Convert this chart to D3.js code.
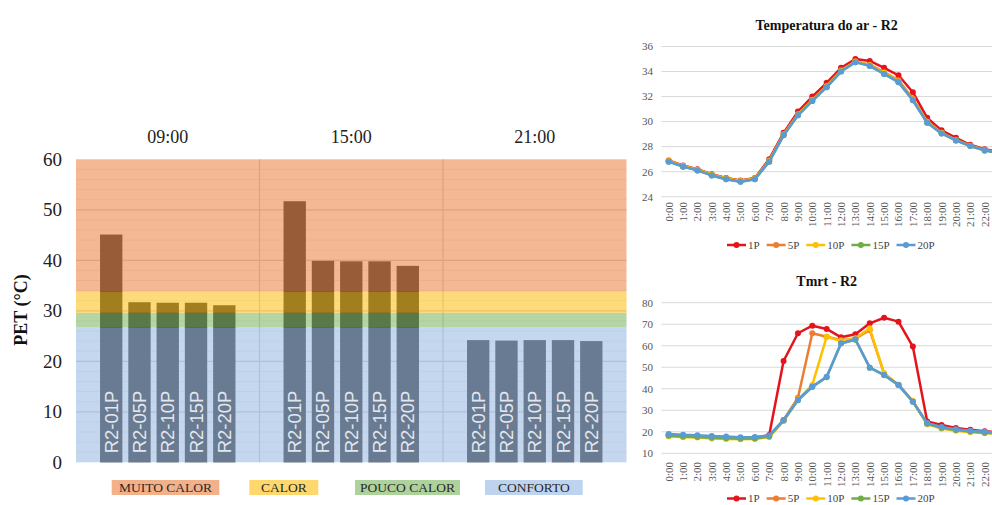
<!DOCTYPE html>
<html>
<head>
<meta charset="utf-8">
<script src="https://cdn.jsdelivr.net/npm/d3@7"></script>
<style>
  body { margin: 0; background: #fff; overflow: hidden; }
  svg { display: block; }
</style>
</head>
<body>
<svg id="chart" width="992" height="505"></svg>
<script>
// ---------- PET bar chart data ----------
const periods = ["09:00", "15:00", "21:00"];
const points = ["R2-01P", "R2-05P", "R2-10P", "R2-15P", "R2-20P"];
const pet0900 = [45.1, 31.7, 31.6, 31.6, 31.1];
const pet1500 = [51.7, 39.9, 39.8, 39.8, 38.9];
const pet2100 = [24.2, 24.1, 24.2, 24.2, 24.0];
const petTicks = [0, 10, 20, 30, 40, 50, 60];

// thermal sensation zones (lower bound, upper bound)
const zoneNames = ["CONFORTO", "POUCO CALOR", "CALOR", "MUITO CALOR"];
const zoneFrom = [0, 26.7, 29.6, 33.8];
const zoneTo = [26.7, 29.6, 33.8, 60];
const legendOrder = ["MUITO CALOR", "CALOR", "POUCO CALOR", "CONFORTO"];

// ---------- hourly line chart data ----------
const hours = ["0:00","1:00","2:00","3:00","4:00","5:00","6:00","7:00","8:00","9:00","10:00","11:00",
               "12:00","13:00","14:00","15:00","16:00","17:00","18:00","19:00","20:00","21:00","22:00","23:00"];
const seriesNames = ["1P", "5P", "10P", "15P", "20P"];

const air1P  = [26.9, 26.5, 26.2, 25.8, 25.5, 25.3, 25.5, 27.0, 29.1, 30.8, 32.0, 33.1, 34.3, 35.0, 34.85, 34.3, 33.7, 32.35, 30.3, 29.3, 28.7, 28.15, 27.8, 27.6];
const air5P  = [26.85, 26.45, 26.15, 25.75, 25.45, 25.25, 25.45, 26.9, 29.0, 30.6, 31.75, 32.85, 34.1, 34.8, 34.55, 33.95, 33.3, 31.85, 30.0, 29.1, 28.55, 28.1, 27.75, 27.55];
const air10P = [26.85, 26.45, 26.15, 25.75, 25.45, 25.25, 25.45, 26.85, 28.95, 30.55, 31.7, 32.8, 34.05, 34.8, 34.5, 33.9, 33.2, 31.75, 29.95, 29.1, 28.5, 28.05, 27.7, 27.5];
const air15P = [26.8, 26.4, 26.1, 25.7, 25.4, 25.2, 25.4, 26.8, 28.9, 30.5, 31.65, 32.75, 34.0, 34.75, 34.45, 33.8, 33.15, 31.7, 29.9, 29.05, 28.5, 28.05, 27.7, 27.5];
const air20P = [26.8, 26.4, 26.1, 25.7, 25.4, 25.2, 25.4, 26.8, 28.9, 30.5, 31.65, 32.75, 34.0, 34.75, 34.45, 33.8, 33.15, 31.7, 29.9, 29.05, 28.5, 28.05, 27.7, 27.5];
const airTicks = [24, 26, 28, 30, 32, 34, 36];

const mrt1P  = [18.6, 18.2, 18.0, 17.6, 17.4, 17.1, 17.2, 18.5, 52.9, 65.8, 69.3, 67.8, 63.9, 65.3, 70.4, 73.0, 71.2, 59.6, 24.8, 23.2, 21.8, 20.9, 20.3, 19.8];
const mrt5P  = [18.4, 18.0, 17.8, 17.4, 17.2, 16.9, 17.0, 18.0, 25.5, 35.8, 65.8, 64.2, 62.7, 63.3, 67.3, 47.0, 41.9, 34.2, 24.0, 22.0, 21.0, 20.3, 19.8, 19.4];
const mrt10P = [17.9, 17.5, 17.3, 16.9, 16.7, 16.5, 16.6, 17.6, 25.0, 35.0, 41.8, 64.2, 62.2, 63.5, 68.1, 47.2, 41.8, 34.2, 23.5, 21.5, 20.5, 19.8, 19.3, 19.0];
const mrt15P = [18.2, 17.8, 17.6, 17.2, 17.0, 16.8, 16.9, 17.8, 25.2, 34.6, 40.8, 45.4, 61.0, 62.8, 49.8, 46.3, 41.7, 34.0, 23.7, 21.8, 20.8, 20.1, 19.6, 19.2];
const mrt20P = [19.0, 18.6, 18.4, 18.0, 17.8, 17.5, 17.6, 18.3, 25.5, 34.8, 41.0, 45.6, 61.1, 63.0, 49.8, 46.4, 41.8, 34.0, 24.0, 22.2, 21.2, 20.5, 20.0, 19.5];
const mrtTicks = [10, 20, 30, 40, 50, 60, 70, 80];

// ---------- styling ----------
const serif = "'Liberation Serif','Times New Roman',serif";
const sans = "'Liberation Sans',Arial,sans-serif";
const zoneColor = {
  "MUITO CALOR": "#ed894e",
  "CALOR": "#fdc321",
  "POUCO CALOR": "#84bb67",
  "CONFORTO": "#9dbce3"
};
const zoneOpacity = 0.6;
const lineColors = ["#e3141c", "#ed7d31", "#ffc000", "#70ad47", "#5b9bd5"];
const pageWidth = 992;

const svg = d3.select("#chart");

// =================== PET chart ===================
const plotLeft = 76, plotRight = 626.5, plotTop = 159.3, plotBottom = 462.3;
const y = d3.scaleLinear().domain([0, 60]).range([plotBottom, plotTop]);
const x0 = d3.scaleBand().domain(periods).range([plotLeft, plotRight]);
const x1 = d3.scaleBand().domain(points).range([0, x0.bandwidth()])
  .paddingInner(0.21).paddingOuter(0.85);

const pet = svg.append("g");

// minor and major gridlines (sit under the translucent zone bands)
pet.selectAll("line.minor").data(d3.range(2, 60, 2).filter(v => v % 10 !== 0)).join("line")
  .attr("x1", plotLeft).attr("x2", plotRight)
  .attr("y1", d => y(d)).attr("y2", d => y(d))
  .attr("stroke", "#ececec").attr("stroke-width", 1);
pet.selectAll("line.major").data(petTicks.filter(v => v > 0 && v < 60)).join("line")
  .attr("x1", plotLeft).attr("x2", plotRight)
  .attr("y1", d => y(d)).attr("y2", d => y(d))
  .attr("stroke", "#c8c8c8").attr("stroke-width", 1.2);
pet.selectAll("line.sep").data(periods.slice(1)).join("line")
  .attr("x1", d => x0(d)).attr("x2", d => x0(d))
  .attr("y1", plotTop).attr("y2", plotBottom)
  .attr("stroke", "#c8c8c8").attr("stroke-width", 1.2);

// bars
const petByPeriod = [pet0900, pet1500, pet2100];
const barData = [];
periods.forEach((p, i) => points.forEach((pt, j) => barData.push({ period: p, point: pt, value: petByPeriod[i][j] })));

pet.selectAll("rect.bar").data(barData).join("rect")
  .attr("x", d => x0(d.period) + x1(d.point))
  .attr("width", x1.bandwidth())
  .attr("y", d => y(d.value))
  .attr("height", d => y(0) - y(d.value))
  .attr("fill", "#1a1a1a");

// translucent thermal zones over the bars
const zones = zoneNames.map((n, i) => ({ name: n, from: zoneFrom[i], to: zoneTo[i] }));
pet.selectAll("rect.zone").data(zones).join("rect")
  .attr("x", plotLeft).attr("width", plotRight - plotLeft)
  .attr("y", d => y(d.to)).attr("height", d => y(d.from) - y(d.to))
  .attr("fill", d => zoneColor[d.name]).attr("fill-opacity", zoneOpacity);

// point labels inside bars
pet.selectAll("text.blabel").data(barData).join("text")
  .attr("transform", d => `translate(${x0(d.period) + x1(d.point) + x1.bandwidth() / 2 + 6.5},${y(0) - 9}) rotate(-90)`)
  .attr("font-family", sans).attr("font-size", 18.5)
  .attr("fill", "#e3e7ed")
  .text(d => d.point);

// period headings
pet.selectAll("text.period").data(periods).join("text")
  .attr("x", d => x0(d) + x0.bandwidth() / 2).attr("y", 143)
  .attr("text-anchor", "middle")
  .attr("font-family", serif).attr("font-size", 18).attr("fill", "#222")
  .text(d => d);

// y tick labels
pet.selectAll("text.ytick").data(petTicks).join("text")
  .attr("x", 62).attr("y", d => y(d)).attr("dy", "0.35em")
  .attr("text-anchor", "end")
  .attr("font-family", serif).attr("font-size", 19).attr("fill", "#222")
  .text(d => d);

pet.append("text")
  .attr("transform", "translate(27,310) rotate(-90)")
  .attr("text-anchor", "middle")
  .attr("font-family", serif).attr("font-size", 18).attr("font-weight", "bold").attr("fill", "#111")
  .text("PET (°C)");

// zone legend
const legendBoxes = { "MUITO CALOR": [111.7, 219.3], "CALOR": [249.3, 318.3], "POUCO CALOR": [355, 460], "CONFORTO": [485, 582.7] };
const lg = pet.selectAll("g.lg").data(legendOrder).join("g");
lg.append("rect")
  .attr("x", d => legendBoxes[d][0]).attr("width", d => legendBoxes[d][1] - legendBoxes[d][0])
  .attr("y", 480).attr("height", 15)
  .attr("fill", d => zoneColor[d]).attr("fill-opacity", 0.66);
lg.append("text")
  .attr("x", d => (legendBoxes[d][0] + legendBoxes[d][1]) / 2).attr("y", 492)
  .attr("text-anchor", "middle")
  .attr("font-family", serif).attr("font-size", 13.5).attr("fill", "#2a2a2a")
  .text(d => d);

// =================== hourly line charts ===================
function lineChart(cfg) {
  const g = svg.append("g");
  const x = d3.scaleBand().domain(hours).range([661.5, 1006.2]);
  const cx = h => x(h) + x.bandwidth() / 2;
  const yy = d3.scaleLinear().domain(cfg.domain).range(cfg.range);

  g.selectAll("line.grid").data(cfg.ticks).join("line")
    .attr("x1", 661.5).attr("x2", 1006.2)
    .attr("y1", d => yy(d)).attr("y2", d => yy(d))
    .attr("stroke", "#d9d9d9").attr("stroke-width", 1);

  g.selectAll("text.yt").data(cfg.ticks).join("text")
    .attr("x", 653).attr("y", d => yy(d)).attr("dy", "0.35em")
    .attr("text-anchor", "end")
    .attr("font-family", serif).attr("font-size", 11).attr("fill", "#555")
    .text(d => d);

  // hour labels that fall inside the page
  g.selectAll("text.xt").data(hours.filter(h => cx(h) + 6 <= pageWidth)).join("text")
    .attr("transform", d => `translate(${cx(d) + 4},${cfg.labelY}) rotate(-90)`)
    .attr("text-anchor", "end")
    .attr("font-family", serif).attr("font-size", 11).attr("fill", "#555")
    .text(d => d);

  g.append("text")
    .attr("x", 826.7).attr("y", cfg.titleY)
    .attr("text-anchor", "middle")
    .attr("font-family", serif).attr("font-size", 14).attr("font-weight", "bold").attr("fill", "#111")
    .text(cfg.title);

  const line = d3.line().x((d, i) => cx(hours[i])).y(d => yy(d));
  cfg.series.forEach((vals, k) => {
    g.append("path").datum(vals)
      .attr("d", line).attr("fill", "none")
      .attr("stroke", lineColors[k]).attr("stroke-width", 2.5)
      .attr("stroke-linejoin", "round");
    g.selectAll(null).data(vals).join("circle")
      .attr("cx", (d, i) => cx(hours[i])).attr("cy", d => yy(d))
      .attr("r", 3).attr("fill", lineColors[k]);
  });

  // legend
  let lx = 727;
  seriesNames.forEach((name, k) => {
    const ly = cfg.legendY;
    g.append("line").attr("x1", lx).attr("x2", lx + 19).attr("y1", ly).attr("y2", ly)
      .attr("stroke", lineColors[k]).attr("stroke-width", 2.5);
    g.append("circle").attr("cx", lx + 9.5).attr("cy", ly).attr("r", 3).attr("fill", lineColors[k]);
    const t = g.append("text").attr("x", lx + 21).attr("y", ly).attr("dy", "0.35em")
      .attr("font-family", serif).attr("font-size", 11).attr("fill", "#444")
      .text(name);
    lx += 21 + t.node().getComputedTextLength() + 7;
  });
}

lineChart({
  title: "Temperatura  do ar - R2", titleY: 30,
  domain: [24, 36], range: [196.7, 46.5], ticks: airTicks,
  labelY: 202, legendY: 245,
  series: [air1P, air5P, air10P, air15P, air20P]
});

lineChart({
  title: "Tmrt - R2", titleY: 286,
  domain: [10, 80], range: [453.3, 302.7], ticks: mrtTicks,
  labelY: 462, legendY: 498.5,
  series: [mrt1P, mrt5P, mrt10P, mrt15P, mrt20P]
});
</script>
</body>
</html>
